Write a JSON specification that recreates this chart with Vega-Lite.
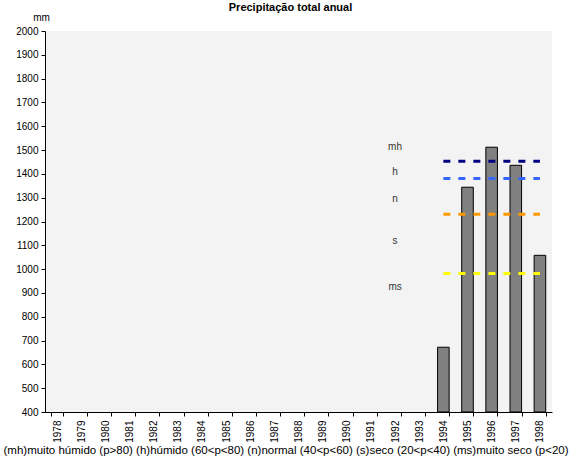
{
  "$schema": "https://vega.github.io/schema/vega-lite/v6.json",
  "width": 507,
  "height": 381,
  "autosize": {"type": "none"},
  "padding": {"left": 45, "top": 31, "right": 17, "bottom": 47},
  "background": "white",
  "title": {"text": "Precipitação total anual", "font": "Liberation Sans", "fontSize": 11, "fontWeight": "bold", "color": "black", "anchor": "middle", "dx": -8, "dy": 12, "offset": 0, "baseline": "bottom"},
  "config": {
    "view": {"fill": "#f3f3f3", "stroke": null},
    "font": "Liberation Sans",
    "axisY": {"labelOverlap": false, "format": "d"}
  },
  "datasets": {
    "bars": [
      {"year": "1994", "p": 672}, {"year": "1995", "p": 1344}, {"year": "1996", "p": 1512},
      {"year": "1997", "p": 1436}, {"year": "1998", "p": 1058}
    ],
    "classes": [
      {"year": "1994", "cls": "mh", "p": 1453}, {"year": "1995", "cls": "mh", "p": 1453}, {"year": "1996", "cls": "mh", "p": 1453}, {"year": "1997", "cls": "mh", "p": 1453}, {"year": "1998", "cls": "mh", "p": 1453},
      {"year": "1994", "cls": "h", "p": 1381}, {"year": "1995", "cls": "h", "p": 1381}, {"year": "1996", "cls": "h", "p": 1381}, {"year": "1997", "cls": "h", "p": 1381}, {"year": "1998", "cls": "h", "p": 1381},
      {"year": "1994", "cls": "n", "p": 1230}, {"year": "1995", "cls": "n", "p": 1230}, {"year": "1996", "cls": "n", "p": 1230}, {"year": "1997", "cls": "n", "p": 1230}, {"year": "1998", "cls": "n", "p": 1230},
      {"year": "1994", "cls": "ms", "p": 982}, {"year": "1995", "cls": "ms", "p": 982}, {"year": "1996", "cls": "ms", "p": 982}, {"year": "1997", "cls": "ms", "p": 982}, {"year": "1998", "cls": "ms", "p": 982}
    ],
    "labels": [
      {"year": "1992", "label": "mh", "p": 1513},
      {"year": "1992", "label": "h", "p": 1408},
      {"year": "1992", "label": "n", "p": 1295},
      {"year": "1992", "label": "s", "p": 1118},
      {"year": "1992", "label": "ms", "p": 925}
    ]
  },
  "encoding": {
    "x": {
      "field": "year", "type": "ordinal",
      "scale": {"domain": ["1978","1979","1980","1981","1982","1983","1984","1985","1986","1987","1988","1989","1990","1991","1992","1993","1994","1995","1996","1997","1998"], "paddingInner": 0.52, "paddingOuter": 0.26},
      "axis": {
        "title": "(mh)muito húmido (p>80)  (h)húmido (60<p<80)  (n)normal (40<p<60)   (s)seco (20<p<40) (ms)muito seco (p<20)",
        "titleFont": "Liberation Sans", "titleFontSize": 11.5, "titleFontWeight": "normal", "titleColor": "black",
        "titleAnchor": "start", "titleAlign": "left", "titleBaseline": "middle", "titleX": -42, "titleY": 38,
        "labelAngle": -90, "labelFontSize": 10, "labelColor": "black", "labelAlign": "right", "labelBaseline": "middle", "labelPadding": 4, "labelOverlap": false,
        "tickBand": "extent", "tickColor": "black", "tickSize": 4, "domainColor": "black", "domainWidth": 1, "grid": false
      }
    },
    "y": {
      "field": "p", "type": "quantitative",
      "scale": {"domain": [400, 2000], "zero": false, "nice": false},
      "axis": {
        "title": "mm", "titleAngle": 0, "titleFont": "Liberation Sans", "titleFontSize": 10, "titleFontWeight": "normal", "titleColor": "black",
        "titleAlign": "center", "titleBaseline": "middle", "titleX": -4, "titleY": -14,
        "values": [400, 500, 600, 700, 800, 900, 1000, 1100, 1200, 1300, 1400, 1500, 1600, 1700, 1800, 1900, 2000],
        "format": "d", "labelOverlap": false,
        "labelFontSize": 10, "labelColor": "black", "labelPadding": 3,
        "tickColor": "black", "tickSize": 4, "domainColor": "black", "grid": false
      }
    }
  },
  "layer": [
    {
      "data": {"name": "bars"},
      "mark": {"type": "bar", "fill": "#808080", "stroke": "black", "strokeWidth": 1},
      "encoding": {
        "y2": {"datum": 400}
      }
    },
    {
      "data": {"name": "classes"},
      "mark": {"type": "line", "strokeWidth": 3, "strokeDash": [7, 8]},
      "encoding": {
        "color": {
          "field": "cls", "type": "nominal",
          "scale": {"domain": ["mh", "h", "n", "ms"], "range": ["#000080", "#3366ff", "#ff9900", "#ffff00"]},
          "legend": null
        }
      }
    },
    {
      "data": {"name": "labels"},
      "mark": {"type": "text", "fontSize": 10, "color": "#333333", "font": "Liberation Sans"},
      "encoding": {
        "text": {"field": "label"}
      }
    }
  ]
}
